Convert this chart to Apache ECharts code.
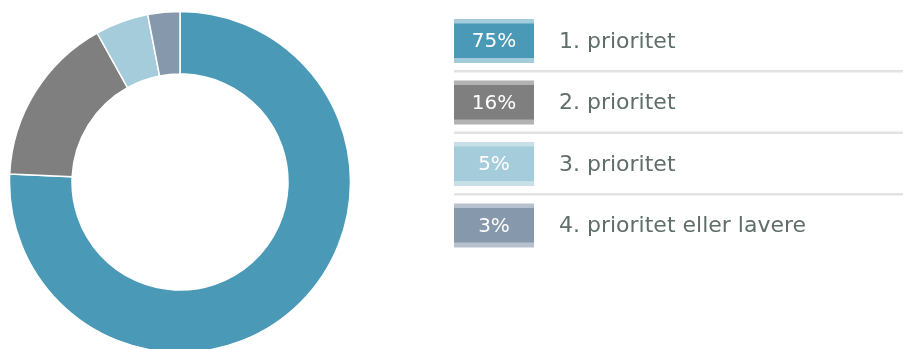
<!DOCTYPE html>
<html>
<head>
<meta charset="utf-8">
<script src="https://cdn.jsdelivr.net/npm/echarts@6/dist/echarts.min.js"></script>
<style>
  html, body { margin: 0; padding: 0; background: #fff; }
  #chart { width: 903px; height: 349px; }
</style>
</head>
<body>
<div id="chart"></div>
<script>
// Priority shares (percent)
var categories = ['1. prioritet', '2. prioritet', '3. prioritet', '4. prioritet eller lavere'];
var values = [75, 16, 5, 3];
var sliceColors = ['#4a9ab7', '#7f7f7f', '#a4ccda', '#8698ac'];
var stripColors = ['#a3cbd9', '#b2b2b2', '#c7e0e8', '#b6c1cd'];

var chart = echarts.init(document.getElementById('chart'), null, { renderer: 'canvas' });

// Legend rows: coloured value box with light strips, label and divider
var graphics = [];
var rowTop = 19, rowStep = 61.5, boxX = 454, boxW = 80, boxH = 44;
categories.forEach(function (name, i) {
  var y = rowTop + i * rowStep;
  graphics.push({
    type: 'rect', left: boxX, top: y,
    shape: { width: boxW, height: boxH },
    style: { fill: stripColors[i] }
  });
  graphics.push({
    type: 'rect', left: boxX, top: y + 4.5,
    shape: { width: boxW, height: boxH - 9.5 },
    style: { fill: sliceColors[i] }
  });
  graphics.push({
    type: 'text', x: boxX + boxW / 2, y: y + boxH / 2 + 1,
    style: {
      text: values[i] + '%', fill: '#ffffff',
      font: '20px "DejaVu Sans"', align: 'center', verticalAlign: 'middle'
    }
  });
  graphics.push({
    type: 'text', x: 559, y: y + boxH / 2 + 1,
    style: {
      text: name, fill: '#5f6e68',
      font: '22px "DejaVu Sans"', align: 'left', verticalAlign: 'middle'
    }
  });
  if (i < categories.length - 1) {
    graphics.push({
      type: 'rect', left: boxX, top: y + 51,
      shape: { width: 903 - boxX, height: 2.5 },
      style: { fill: '#e2e2e2' }
    });
  }
});

chart.setOption({
  animation: false,
  backgroundColor: '#ffffff',
  color: sliceColors,
  graphic: graphics,
  series: [{
    type: 'pie',
    center: [180, 182],
    radius: [108, 170.5],
    startAngle: 90,
    clockwise: true,
    label: { show: false },
    labelLine: { show: false },
    itemStyle: { borderColor: '#ffffff', borderWidth: 1.5 },
    emphasis: { disabled: true },
    data: categories.map(function (c, i) { return { name: c, value: values[i] }; })
  }]
});
</script>
</body>
</html>
